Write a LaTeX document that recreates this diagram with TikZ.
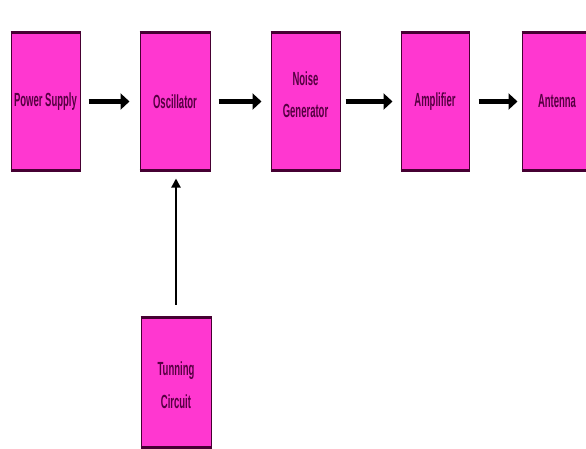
\documentclass[tikz,border=0pt]{standalone}
\usepackage{fontspec}
\setmainfont{Liberation Sans}[FakeStretch=0.5]
\usetikzlibrary{arrows.meta}
\definecolor{boxfill}{RGB}{255,55,208}
\definecolor{boxedge}{RGB}{70,0,50}
\definecolor{boxtext}{RGB}{85,0,65}
\tikzset{
  block/.style={draw=boxedge, fill=boxfill, line width=1pt, minimum width=#1, minimum height=137pt,
    inner sep=0pt, align=center, text=boxtext, font=\fontsize{19}{32}\selectfont\bfseries},
  block/.default=69pt,
  bigarrow/.style={line width=4.5pt, -{Triangle[length=9pt,width=16pt]}},
  thinarrow/.style={line width=2pt, -{Triangle[length=9pt,width=9pt]}}
}
\begin{document}
\begin{tikzpicture}[x=1pt,y=-1pt]
\useasboundingbox (0,0) rectangle (586,448);
\clip (0,0) rectangle (586,448);
\fill[white] (0,0) rectangle (586,448);
\node[block=69pt] (ps) at (45.5,101.5) {Power Supply};
\node[block=70pt] (osc) at (175,101.5) {Oscillator};
\node[block=69pt] (ng) at (305.5,101.5) {};
\node[text=boxtext, align=center, font=\fontsize{19}{32}\selectfont\bfseries, inner sep=0pt] (ngt) at (305.5,95) {Noise\\Generator};
\node[block=68pt] (amp) at (435,101.5) {Amplifier};
\node[block=70pt] (ant) at (557,101.5) {Antenna};
\node[block=70pt, minimum height=129pt] (tc) at (176,382.5) {};
\node[text=boxtext, align=center, font=\fontsize{19}{33}\selectfont\bfseries, inner sep=0pt] (tct) at (176,385) {Tunning\\Circuit};
\foreach \n in {ps,osc,ng,amp,ant,tc}{
  \draw[boxedge, line width=2.5pt] (\n.north west) -- (\n.north east);
  \draw[boxedge, line width=2.5pt] (\n.south west) -- (\n.south east);
}
\draw[bigarrow, shorten <=8pt, shorten >=10pt] (ps) -- (osc);
\draw[bigarrow, line width=5pt, shorten <=8pt, shorten >=9pt] (osc) -- (ng);
\draw[bigarrow, shorten <=5pt, shorten >=8pt] (ng) -- (amp);
\draw[bigarrow, shorten <=9pt, shorten >=4pt] (amp) -- (ant);
\draw[thinarrow, shorten <=13pt, shorten >=8pt] (tc.north) -- (tc.north |- osc.south);
\end{tikzpicture}
\end{document}
